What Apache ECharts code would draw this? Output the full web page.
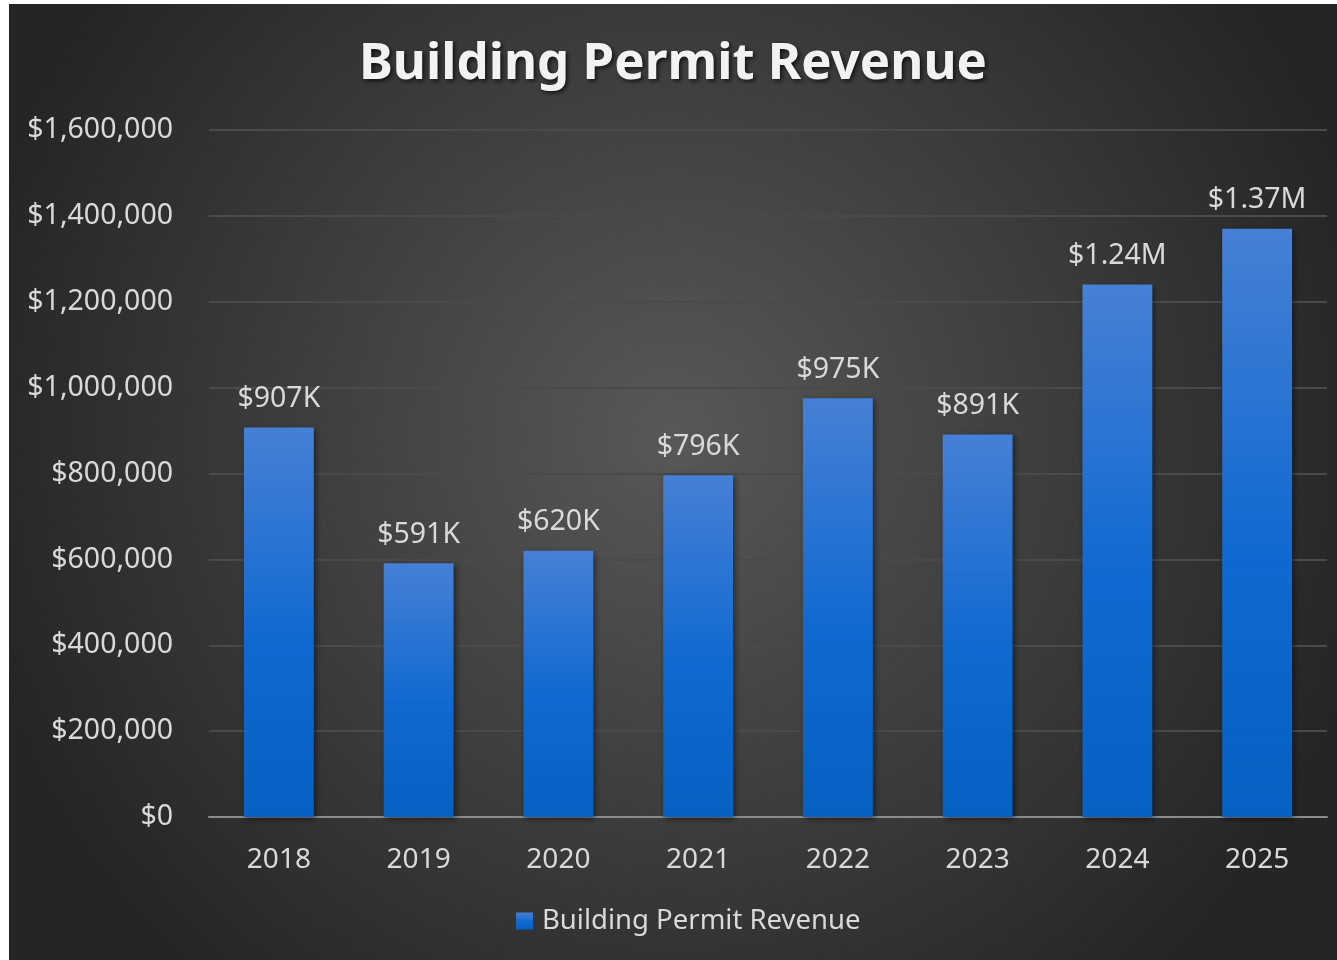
<!DOCTYPE html>
<html>
<head>
<meta charset="utf-8">
<script src="https://cdn.jsdelivr.net/npm/echarts@6/dist/echarts.min.js"></script>
<style>
  html, body { margin: 0; padding: 0; background: #fff; }
  #chart { position: absolute; left: 9px; top: 4px; width: 1328px; height: 956px; }
</style>
</head>
<body>
<div id="chart"></div>
<script>
// values
const years = ["2018", "2019", "2020", "2021", "2022", "2023", "2024", "2025"];
const revenue = [907000, 591000, 620000, 796000, 975000, 891000, 1240000, 1370000];
const seriesName = "Building Permit Revenue";

const font = "'Noto Sans', 'Open Sans', sans-serif";

function shortMoney(v) {
  if (v >= 1000000) return "$" + (v / 1000000).toFixed(2) + "M";
  return "$" + Math.round(v / 1000) + "K";
}

const barColor = new echarts.graphic.LinearGradient(0, 0, 0, 1, [
  { offset: 0, color: "#4680d6" },
  { offset: 0.55, color: "#1069d0" },
  { offset: 1, color: "#0561c2" },
]);

const chart = echarts.init(document.getElementById("chart"));
chart.setOption({
  backgroundColor: {
    type: "radial",
    x: 0.5,
    y: 0.45,
    r: 0.75,
    colorStops: [
      { offset: 0, color: "#585858" },
      { offset: 1, color: "#252525" },
    ],
  },
  textStyle: { fontFamily: font },
  title: {
    text: "Building Permit Revenue",
    left: "center",
    top: 30,
    textStyle: {
      color: "#f2f2f2",
      fontSize: 51,
      fontWeight: "bold",
      fontFamily: font,
      textShadowColor: "rgba(0,0,0,0.7)",
      textShadowBlur: 4,
      textShadowOffsetX: 2,
      textShadowOffsetY: 2,
    },
  },
  legend: {
    bottom: 20,
    left: 502,
    itemWidth: 17,
    itemHeight: 17,
    itemGap: 10,
    icon: "rect",
    textStyle: { color: "#d9d9d9", fontSize: 27.5, fontFamily: font, padding: [0, 0, 0, 4] },
    data: [seriesName],
  },
  grid: {
    left: 200,
    right: 10,
    top: 126,
    bottom: 143,
    containLabel: false,
  },
  xAxis: {
    type: "category",
    data: years,
    axisTick: { show: false },
    axisLine: { lineStyle: { color: "#8c8c8c", width: 2 } },
    axisLabel: { color: "#d9d9d9", fontSize: 28, margin: 29, fontFamily: font },
  },
  yAxis: {
    type: "value",
    min: 0,
    max: 1600000,
    interval: 200000,
    axisLine: { show: false },
    axisTick: { show: false },
    splitLine: { lineStyle: { color: "#4a4a4a", width: 2 } },
    axisLabel: {
      color: "#d9d9d9",
      fontSize: 28.5,
      margin: 36,
      fontFamily: font,
      formatter: (v) => "$" + v.toLocaleString("en-US"),
    },
  },
  series: [
    {
      name: seriesName,
      type: "bar",
      data: revenue,
      barWidth: "50%",
      itemStyle: {
        color: barColor,
        shadowColor: "rgba(0,0,0,0.5)",
        shadowBlur: 6,
        shadowOffsetX: 2,
        shadowOffsetY: 2,
      },
      label: {
        show: true,
        position: "top",
        distance: 14,
        color: "#d9d9d9",
        fontSize: 28.5,
        fontFamily: font,
        formatter: (p) => shortMoney(p.value),
      },
    },
  ],
});
</script>
</body>
</html>
